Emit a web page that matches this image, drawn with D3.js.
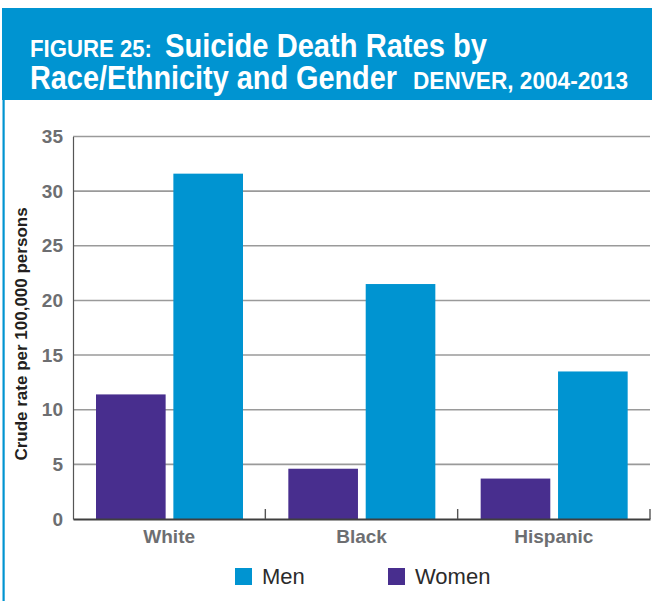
<!DOCTYPE html>
<html>
<head>
<meta charset="utf-8">
<script src="https://cdn.jsdelivr.net/npm/d3@7"></script>
<style>
  html, body { margin: 0; padding: 0; background: #fff; }
  svg { display: block; }
</style>
</head>
<body>
<svg id="chart" width="652" height="601"></svg>
<script>
// ---- data ----
const categories = ["White", "Black", "Hispanic"];
const seriesNames = ["Women", "Men"];
const womenValues = [11.4, 4.6, 3.7];
const menValues = [31.6, 21.5, 13.5];
const yTicks = [0, 5, 10, 15, 20, 25, 30, 35];
const legendOrder = ["Men", "Women"];
const titleParts = [
  { text: "FIGURE 25:", x: 30, y: 57, size: 24, len: 122 },
  { text: "Suicide Death Rates by", x: 165, y: 57, size: 33, len: 322 },
  { text: "Race/Ethnicity and Gender", x: 30, y: 89, size: 33, len: 367 },
  { text: "DENVER, 2004-2013", x: 413, y: 89, size: 24, len: 215 }
];
const yTitle = "Crude rate per 100,000 persons";

const colors = { Men: "#0094d1", Women: "#482e8e" };
const blue = "#0094d1";

const rows = categories.map((c, i) => ({ cat: c, Women: womenValues[i], Men: menValues[i] }));

const svg = d3.select("#chart");

// frame / header
svg.append("rect").attr("x", 2).attr("y", 8).attr("width", 650).attr("height", 92).attr("fill", blue);
svg.append("rect").attr("x", 2.5).attr("y", 100).attr("width", 2.2).attr("height", 501).attr("fill", blue);

const font = "'Liberation Sans', Arial, Helvetica, sans-serif";

svg.append("g").selectAll("text").data(titleParts).join("text")
  .attr("x", d => d.x).attr("y", d => d.y)
  .attr("font-family", font).attr("font-weight", "bold").attr("fill", "#fff")
  .attr("font-size", d => d.size)
  .attr("textLength", d => d.len).attr("lengthAdjust", "spacingAndGlyphs")
  .text(d => d.text);

// scales
const x0 = d3.scaleBand().domain(categories).range([73, 650]).padding(0);
const x1 = d3.scaleBand().domain(seriesNames).range([23, 170]).paddingInner(0.1).paddingOuter(0);
const y = d3.scaleLinear().domain([0, 35]).range([519, 136.5]);

// gridlines
svg.append("g").selectAll("line").data(yTicks.filter(d => d > 0)).join("line")
  .attr("x1", 73).attr("x2", 650)
  .attr("y1", d => y(d)).attr("y2", d => y(d))
  .attr("stroke", "#9a9a9a").attr("stroke-width", 1.6);

// bars
const g = svg.append("g");
g.selectAll("g").data(rows).join("g")
  .attr("transform", d => `translate(${x0(d.cat)},0)`)
  .selectAll("rect").data(d => seriesNames.map(s => ({ s, v: d[s] }))).join("rect")
  .attr("x", d => x1(d.s)).attr("width", x1.bandwidth())
  .attr("y", d => y(d.v)).attr("height", d => y(0) - y(d.v))
  .attr("fill", d => colors[d.s]);

// y axis
const yAxis = svg.append("g").attr("transform", "translate(73,0)")
  .call(d3.axisLeft(y).tickValues(yTicks).tickSize(0).tickPadding(10));
yAxis.select(".domain").attr("stroke", "#555").attr("stroke-width", 1.2);
yAxis.selectAll("text").attr("font-family", font).attr("font-weight", "bold")
  .attr("font-size", 19).attr("fill", "#6d6e71");

// x axis
const xAxis = svg.append("g").attr("transform", `translate(0,${y(0)})`)
  .call(d3.axisBottom(x0).tickSize(0).tickPadding(11));
xAxis.select(".domain").attr("stroke", "#3f3f3f").attr("stroke-width", 1.8);
xAxis.selectAll("text").attr("font-family", font).attr("font-weight", "bold")
  .attr("font-size", 19).attr("fill", "#6d6e71");
// category separator ticks
svg.append("g").selectAll("line").data(categories.slice(1).concat(["__end"])).join("line")
  .attr("x1", d => d === "__end" ? 650 : x0(d)).attr("x2", d => d === "__end" ? 650 : x0(d))
  .attr("y1", y(0) - 10).attr("y2", y(0))
  .attr("stroke", "#555").attr("stroke-width", 1.4);

// y title
svg.append("text").attr("transform", "translate(21,334) rotate(-90)")
  .attr("text-anchor", "middle").attr("dominant-baseline", "central")
  .attr("font-family", font).attr("font-weight", "bold").attr("font-size", 17)
  .attr("fill", "#231f20").text(yTitle);

// legend
const legX = { Men: 235, Women: 388 };
const lg = svg.append("g").selectAll("g").data(legendOrder).join("g")
  .attr("transform", d => `translate(${legX[d]},568)`);
lg.append("rect").attr("width", 17).attr("height", 17).attr("fill", d => colors[d]);
lg.append("text").attr("x", 27).attr("y", 16)
  .attr("font-family", font).attr("font-size", 22).attr("fill", "#2b2b2b").text(d => d);
</script>
</body>
</html>
